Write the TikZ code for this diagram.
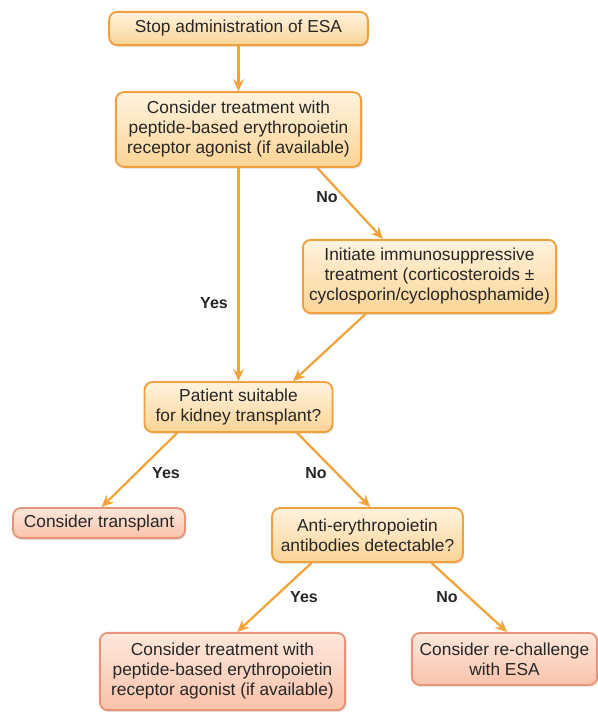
\documentclass[tikz,border=0pt]{standalone}
\usepackage{fontspec}
\setmainfont{Liberation Sans}
\usepackage{tikz}
\definecolor{boxline}{RGB}{240,160,60}
\definecolor{boxtop}{RGB}{255,243,222}
\definecolor{boxbot}{RGB}{252,212,150}
\definecolor{endline}{RGB}{232,148,120}
\definecolor{endtop}{RGB}{254,232,220}
\definecolor{endbot}{RGB}{249,194,170}
\definecolor{flow}{RGB}{242,164,58}
\usetikzlibrary{arrows.meta, shadows}

\begin{document}
\begin{tikzpicture}[x=0.75pt, y=-0.75pt, >={Stealth[length=9pt, width=8pt]},
    stepbox/.style={draw=boxline, line width=1.4pt, rounded corners=6pt,
        top color=boxtop, bottom color=boxbot, align=center, inner sep=0pt,
        font=\fontsize{13}{15}\selectfont, text=black!85,
        drop shadow={opacity=0.2, shadow xshift=1pt, shadow yshift=-1.5pt}},
    endbox/.style={stepbox, draw=endline, top color=endtop, bottom color=endbot},
    flowline/.style={->, flow, line width=1.7pt},
    answer/.style={font=\fontsize{12}{14}\selectfont\bfseries, text=black!85}]
    \useasboundingbox (0,0) rectangle (598,712);
    % Hộp quyết định
    \node[stepbox, minimum width=194pt, minimum height=25pt] (stop) at (238.5,28.5) {Stop administration of ESA};
    \node[stepbox, minimum width=184pt, minimum height=56pt] (peptide) at (238.5,129.5) {Consider treatment with\\peptide-based erythropoietin\\receptor agonist (if available)};
    \node[stepbox, minimum width=190pt, minimum height=55pt] (immuno) at (429.5,276.5) {Initiate immunosuppressive\\treatment (corticosteroids ±\\cyclosporin/cyclophosphamide)};
    \node[stepbox, minimum width=141pt, minimum height=37.5pt] (suitable) at (238.5,407) {Patient suitable\\for kidney transplant?};
    \node[endbox, minimum width=129pt, minimum height=22.5pt] (transplant) at (99,523) {Consider transplant};
    \node[stepbox, minimum width=143pt, minimum height=40.5pt] (antibody) at (367.5,535) {Anti-erythropoietin\\antibodies detectable?};
    \node[endbox, minimum width=184pt, minimum height=58pt] (peptideb) at (222.5,671.5) {Consider treatment with\\peptide-based erythropoietin\\receptor agonist (if available)};
    \node[endbox, minimum width=139pt, minimum height=39pt] (rechallenge) at (504.5,659) {Consider re-challenge\\with ESA};
    % Mũi tên
    \draw[flowline] (stop) -- (peptide);
    \draw[flowline] (peptide.south) -- (suitable.north);
    \draw[flowline] ([xshift=59pt]peptide.south) -- ([xshift=-35pt]immuno.north);
    \draw[flowline] ([xshift=-48pt]immuno.south) -- ([xshift=41pt]suitable.north);
    \draw[flowline] ([xshift=-46pt]suitable.south) -- ([xshift=2pt]transplant.north);
    \draw[flowline] ([xshift=44pt]suitable.south) -- ([xshift=2pt]antibody.north);
    \draw[flowline] ([xshift=-42pt]antibody.south) -- ([xshift=11pt]peptideb.north);
    \draw[flowline] ([xshift=48pt]antibody.south) -- ([xshift=2pt]rechallenge.north);
    % Nhãn
    \node[answer] (yes1) at (214,303) {Yes};
    \node[answer] (no1) at (327,197) {No};
    \node[answer] (yes2) at (166,473) {Yes};
    \node[answer] (no2) at (316,473) {No};
    \node[answer] (yes3) at (304,597) {Yes};
    \node[answer] (no3) at (447,597) {No};
\end{tikzpicture}
\end{document}
